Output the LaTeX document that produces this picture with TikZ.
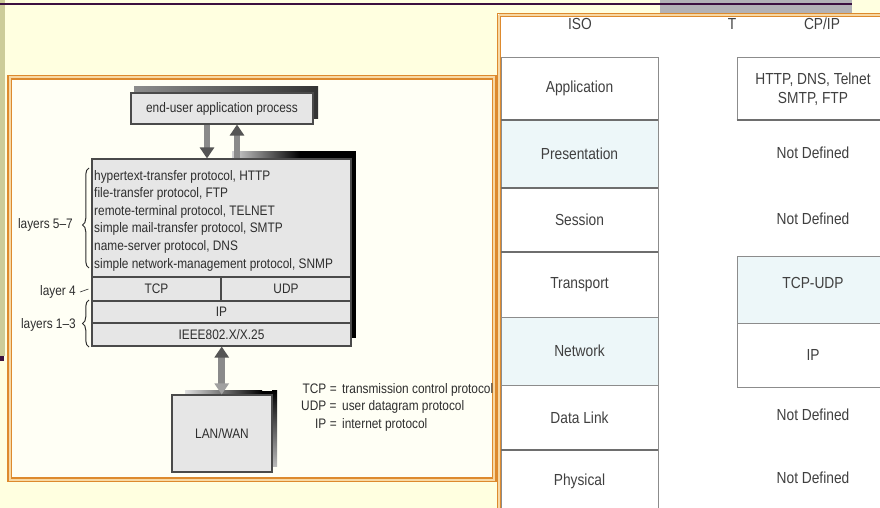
\documentclass[tikz,border=0pt]{standalone}
\usepackage{fontspec}
\setmainfont{Liberation Sans}
\newfontfamily\narrowsans{Liberation Sans}[FakeStretch=0.86]
\usetikzlibrary{arrows.meta,decorations.pathreplacing}

\definecolor{pageyellow}{HTML}{FFFFE0}
\definecolor{frameyellow}{HTML}{FFFFF5}
\definecolor{khaki}{HTML}{CCCC99}
\definecolor{plum}{HTML}{3C1040}
\definecolor{tabgrey}{HTML}{B2B2B6}
\definecolor{frameorange}{HTML}{DD8A2E}
\definecolor{framelight}{HTML}{F7D8A4}
\definecolor{boxfill}{HTML}{E6E6E6}
\definecolor{boxline}{HTML}{4A4A4A}
\definecolor{ink}{HTML}{2E2E2E}
\definecolor{cellcyan}{HTML}{EDF7F9}
\definecolor{cellline}{HTML}{8C8C8C}
\definecolor{cellheavy}{HTML}{6E6E6E}
\definecolor{cellink}{HTML}{404040}
\definecolor{shaftgrey}{HTML}{8A8A8A}
\definecolor{headgrey}{HTML}{555555}
\definecolor{headlight}{HTML}{A0A0A0}

\tikzset{
  smallfont/.style={font=\narrowsans\fontsize{13.8}{17.6}\selectfont},
  cellfont/.style={font=\narrowsans\fontsize{16}{19}\selectfont},
  greybox/.style={draw=boxline, fill=boxfill, line width=1.1pt, inner sep=0pt, text=ink, smallfont},
  plain/.style={inner sep=0pt, text=ink, smallfont},
  isocell/.style={draw=cellline, line width=0.8pt, fill=white, inner sep=0pt,
                  minimum width=157pt, text=cellink, cellfont},
  ipcell/.style={isocell, minimum width=152pt},
  celltext/.style={inner sep=0pt, text=cellink, cellfont, align=center},
  heavyrule/.style={draw=cellheavy, line width=1.8pt},
  flowarrow/.style={line width=6.5pt, draw=shaftgrey,
                    -{Triangle[width=14pt,length=11pt,fill=headgrey,color=headgrey]}},
  flowarrowlight/.style={line width=6.5pt, draw=shaftgrey,
                    -{Triangle[width=14pt,length=11pt,fill=headlight,color=headlight]}},
  layerbrace/.style={decorate, decoration={brace, amplitude=6.5pt}, draw=ink, line width=1pt},
  framerule/.style={draw=frameorange, line width=1.3pt},
  frameband/.style={draw=framelight, line width=2.4pt},
}

\begin{document}
\begin{tikzpicture}[x=1pt,y=-1pt]
\useasboundingbox (0,0) rectangle (880,508);
\clip (0,0) rectangle (880,508);

% slide background, side strip and title rule
\fill[pageyellow] (0,0) rectangle (880,508);
\fill[khaki] (0,0) rectangle (5,356);
\fill[plum] (0,356) rectangle (4,361);
\fill[tabgrey] (660,0) rectangle (852,13);
\draw[plum, line width=1.6pt] (0,4) -- (852,4);

% left picture frame
\fill[frameyellow] (8,75.5) rectangle (496,481.5);
\draw[frameband] (9.8,77.3) rectangle (494.2,479.7);
\draw[framerule] (8,75.5) rectangle (496,481.5);
\draw[framerule] (11.5,79) rectangle (492.5,478);

% drop shadows behind the grey boxes
\shade[left color=black!45, right color=black!80] (134,87) rectangle (318,119);
\shade[left color=gray!35, right color=black] (232,151) rectangle (300,159);
\fill[black] (300,151) rectangle (356,159);
\fill[black] (351,151) rectangle (356,338);
\shade[left color=gray!25, right color=black] (185,390.5) rectangle (262,395);
\fill[black] (262,390.5) rectangle (277,395);
\shade[top color=black, bottom color=gray!55] (272,390.5) rectangle (277,466);

% protocol stack
\node[greybox, minimum width=182pt, minimum height=31pt] (app) at (222,108.5) {end-user application process};
\node[greybox, minimum width=259pt, minimum height=118pt] (apps) at (221.5,218) {};
\node[greybox, minimum width=129pt, minimum height=24pt] (tcp) at (156.5,289) {TCP};
\node[greybox, minimum width=130pt, minimum height=24pt] (udp) at (286,289) {UDP};
\node[greybox, minimum width=259pt, minimum height=22pt] (ip) at (221.5,312) {IP};
\node[greybox, minimum width=259pt, minimum height=23pt] (ieee) at (221.5,334.5) {IEEE802.X/X.25};
\node[greybox, minimum width=100pt, minimum height=77pt] (lan) at (222,433.5) {LAN/WAN};

\foreach \txt [count=\i from 0] in {{hypertext-transfer protocol, HTTP},
    {file-transfer protocol, FTP},{remote-terminal protocol, TELNET},
    {simple mail-transfer protocol, SMTP},{name-server protocol, DNS},
    {simple network-management protocol, SNMP}}
  \node[plain, anchor=base west] (proto\i) at (94,{180+17.6*\i}) {\txt};

% layer labels and braces
\node[plain, anchor=east] (l57) at (73,225) {layers 5–7};
\node[plain, anchor=east] (l4) at (76,292) {layer 4};
\node[plain, anchor=east] (l13) at (76,325) {layers 1–3};
\draw[layerbrace, decoration={aspect=0.43}] (89,268) -- (89,168);
\draw[layerbrace] (89,347) -- (89,300);
\draw[ink, line width=0.6pt] ([xshift=4pt]l4.east) -- ([xshift=-3pt]tcp.west);

% flow arrows
\draw[flowarrow] ([xshift=-15pt]app.south) -- ([xshift=-14.5pt]apps.north);
\draw[flowarrow] ([xshift=15.5pt]apps.north) -- ([xshift=15pt]app.south);
\coordinate (mid) at (221.7,371);
\draw[flowarrow] (mid) -- (ieee.south -| mid);
\draw[flowarrowlight] (mid) -- (lan.north -| mid);

% legend
\node[plain, anchor=west] (legend) at (301,407.4) {%
  \begin{tabular}{@{}r@{\hspace{3.5pt}=\hspace{5.5pt}}l@{}}
  TCP & transmission control protocol\\
  UDP & user datagram protocol\\
  IP  & internet protocol
  \end{tabular}};

% right panel: ISO versus TCP/IP
\fill[white] (497,13) rectangle (880,508);
\draw[frameband] (498.6,14.6) -- (880,14.6);
\draw[frameband] (498.6,14.6) -- (498.6,508);
\draw[framerule] (497.3,13.3) -- (880,13.3);
\draw[framerule] (497.3,13.3) -- (497.3,508);
\draw[framerule] (500.3,16.3) -- (880,16.3);
\draw[framerule] (500.3,16.3) -- (500.3,508);

\node[celltext] (isoh) at (580,24) {ISO};
\node[celltext] (th) at (732,24) {T};
\node[celltext] (cpiph) at (822,24) {CP/IP};

\node[isocell, minimum height=62.3pt] (iso-app) at (579.5,88.85) {Application};
\node[isocell, minimum height=68pt, fill=cellcyan] (iso-pres) at (579.5,154) {Presentation};
\node[isocell, minimum height=64pt] (iso-sess) at (579.5,220) {Session};
\node[isocell, minimum height=65pt] (iso-trans) at (579.5,284.5) {Transport};
\node[isocell, minimum height=68pt, fill=cellcyan] (iso-net) at (579.5,351) {Network};
\node[isocell, minimum height=65pt] (iso-dl) at (579.5,417.5) {Data Link};
\node[isocell, minimum height=62pt] (iso-phys) at (579.5,481) {Physical};
\draw[heavyrule] (iso-app.south west) -- (iso-app.south east);
\draw[heavyrule] (iso-sess.north west) -- (iso-sess.north east);
\draw[heavyrule] (iso-trans.north west) -- (iso-trans.north east);
\draw[heavyrule] (iso-phys.north west) -- (iso-phys.north east);

\node[ipcell, minimum height=62.3pt, align=center] (ip-app) at (813,88.85) {HTTP, DNS, Telnet\\SMTP, FTP};
\draw[heavyrule] (ip-app.south west) -- (ip-app.south east);
\node[ipcell, minimum height=67pt, fill=cellcyan] (ip-tr) at (813,289.5) {};
\node[celltext] (ip-trt) at (813,282.5) {TCP-UDP};
\node[ipcell, minimum height=64pt] (ip-net) at (813,355) {IP};
\node[celltext] (nd1) at (813,153) {Not Defined};
\node[celltext] (nd2) at (813,219) {Not Defined};
\node[celltext] (nd3) at (813,415) {Not Defined};
\node[celltext] (nd4) at (813,478) {Not Defined};
\end{tikzpicture}
\end{document}
